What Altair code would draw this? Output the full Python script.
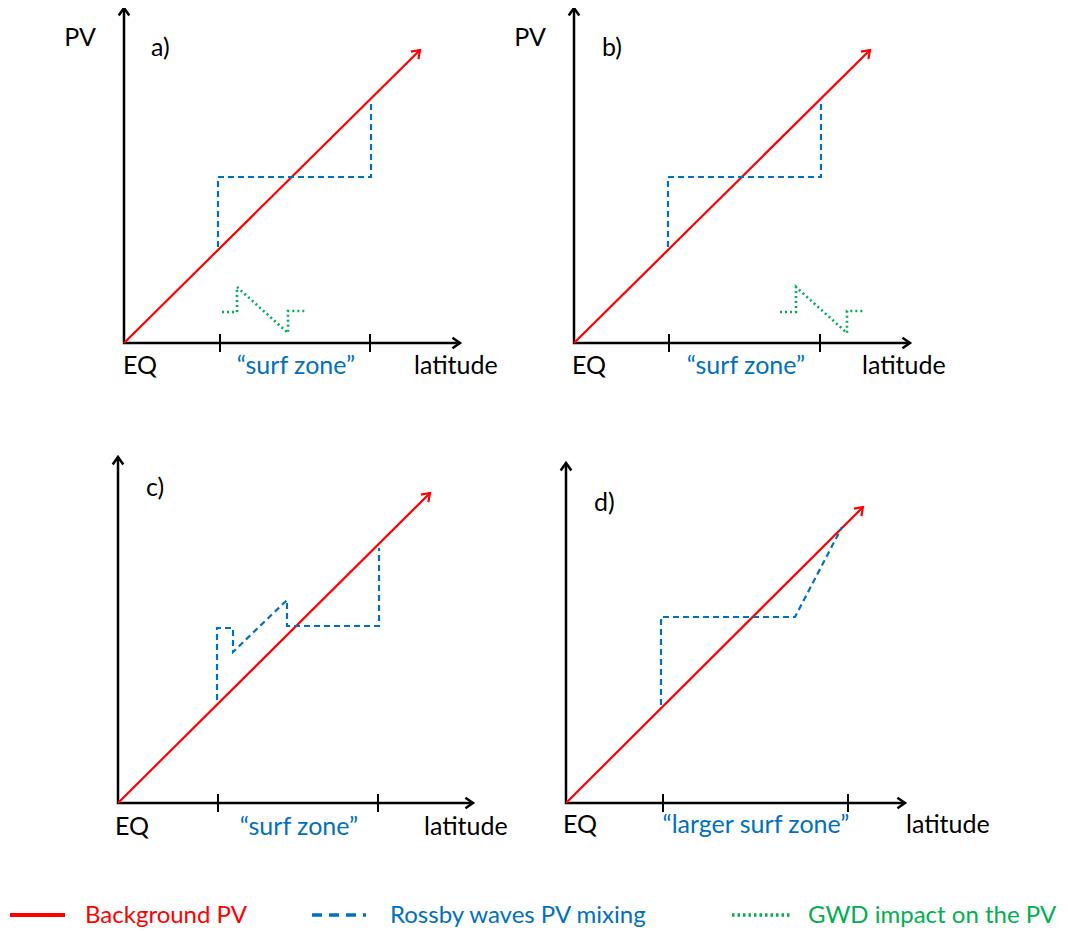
import altair as alt
import pandas as pd

# ---------------- data (diagram units: latitude right, PV up, origin = EQ) -------------
panels = ["a", "b", "c", "d"]

axis_lat_end = {"a": 336, "b": 336, "c": 355, "d": 339}
axis_pv_top = {"a": 335, "b": 335, "c": 346, "d": 340}
surf_ticks = {"a": [96, 246], "b": [95, 246], "c": [100, 260], "d": [97, 282]}

bg_lat = {"a": [0, 296], "b": [0, 296], "c": [0, 312], "d": [0, 297]}
bg_pv = {"a": [0, 293], "b": [0, 293], "c": [0, 310], "d": [0, 296]}

rossby_lat = {
    "a": [94, 94, 247, 247],
    "b": [94, 94, 247, 247],
    "c": [99, 99, 115, 115, 169, 169, 261, 261],
    "d": [95, 95, 229, 276],
}
rossby_pv = {
    "a": [96, 166, 166, 240],
    "b": [96, 166, 166, 240],
    "c": [103, 175, 175, 151, 203, 177, 177, 255],
    "d": [98, 186, 186, 276],
}

gwd_lat = {"a": [98, 113, 113, 164, 164, 183], "b": [206, 222, 222, 273, 273, 291]}
gwd_pv = {"a": [31, 31, 56, 10, 32, 32], "b": [31, 31, 56, 10, 32, 32]}

zone_labels = {"a": "“surf zone”", "b": "“surf zone”", "c": "“surf zone”", "d": "“larger surf zone”"}
panel_tags = {"a": "a)", "b": "b)", "c": "c)", "d": "d)"}
pv_label_panels = ["a", "b"]

legend_names = ["Background PV", "Rossby waves PV mixing", "GWD impact on the PV"]

# ---------------- layout (page pixels) ----------------
ORIGIN = {"a": (124, 343), "b": (574, 343), "c": (118, 803), "d": (566, 803)}
TAG_POS = {"a": (151, 48), "b": (602, 48), "c": (146, 488), "d": (594, 503)}
PV_POS = {"a": (80, 38), "b": (530, 38)}
EQ_POS = {"a": (123, 366), "b": (572, 366), "c": (115, 827), "d": (563, 825)}
LAT_POS = {"a": (414, 366), "b": (862, 366), "c": (424, 827), "d": (906, 825)}
ZONE_POS = {"a": (296, 366), "b": (746, 366), "c": (299, 827), "d": (756, 825)}

RED = "#ff0000"
BLUE = "#0070c0"
GREEN = "#00b050"
FONT = "Lato"
LABEL_SIZE = 25


def to_page(p, lat, pv):
    ox, oy = ORIGIN[p]
    return ox + lat, oy - pv


def polyline_rows(lat_d, pv_d, prefix):
    rows = []
    for p in lat_d:
        for i, (la, pv) in enumerate(zip(lat_d[p], pv_d[p])):
            X, Y = to_page(p, la, pv)
            rows.append({"X": X, "Y": Y, "seg": f"{prefix}{p}", "ord": i})
    return pd.DataFrame(rows)


axes_rows = []
tick_rows = []
head_rows = []
for p in panels:
    for i, (la, pv) in enumerate([(0, axis_pv_top[p]), (0, 0), (axis_lat_end[p], 0)]):
        X, Y = to_page(p, la, pv)
        axes_rows.append({"X": X, "Y": Y, "seg": p, "ord": i})
    for t in surf_ticks[p]:
        X, Y = to_page(p, t, 0)
        tick_rows.append({"X": X, "Y": Y - 9, "Y2": Y + 9})
    X, Y = to_page(p, 0, axis_pv_top[p])
    head_rows.append({"X": X, "Y": Y, "ang": 0, "kind": "axis"})
    X, Y = to_page(p, axis_lat_end[p], 0)
    head_rows.append({"X": X, "Y": Y, "ang": 90, "kind": "axis"})
    X, Y = to_page(p, bg_lat[p][-1], bg_pv[p][-1])
    head_rows.append({"X": X, "Y": Y, "ang": 45, "kind": "bg"})

axes_df = pd.DataFrame(axes_rows)
ticks_df = pd.DataFrame(tick_rows)
heads_df = pd.DataFrame(head_rows)
bg_df = polyline_rows(bg_lat, bg_pv, "bg")
ro_df = polyline_rows(rossby_lat, rossby_pv, "ro")
gw_df = polyline_rows(gwd_lat, gwd_pv, "gw")

text_rows = []
for p in panels:
    text_rows.append({"X": TAG_POS[p][0], "Y": TAG_POS[p][1], "t": panel_tags[p], "c": "black", "al": "left"})
    text_rows.append({"X": EQ_POS[p][0], "Y": EQ_POS[p][1], "t": "EQ", "c": "black", "al": "left"})
    text_rows.append({"X": LAT_POS[p][0], "Y": LAT_POS[p][1], "t": "latitude", "c": "black", "al": "left"})
    text_rows.append({"X": ZONE_POS[p][0], "Y": ZONE_POS[p][1], "t": zone_labels[p], "c": BLUE, "al": "center"})
for p in pv_label_panels:
    text_rows.append({"X": PV_POS[p][0], "Y": PV_POS[p][1], "t": "PV", "c": "black", "al": "center"})
texts_df = pd.DataFrame(text_rows)

LEG_Y = 915
leg_lines = pd.DataFrame([
    {"X": 10, "Y": LEG_Y, "seg": "r", "ord": 0}, {"X": 65, "Y": LEG_Y, "seg": "r", "ord": 1},
])
leg_blue = pd.DataFrame([
    {"X": 312, "Y": LEG_Y, "seg": "b", "ord": 0}, {"X": 366, "Y": LEG_Y, "seg": "b", "ord": 1},
])
leg_green = pd.DataFrame([
    {"X": 732, "Y": LEG_Y, "seg": "g", "ord": 0}, {"X": 791, "Y": LEG_Y, "seg": "g", "ord": 1},
])
leg_text = pd.DataFrame([
    {"X": 85, "Y": LEG_Y + 1, "t": legend_names[0], "c": RED},
    {"X": 390, "Y": LEG_Y + 1, "t": legend_names[1], "c": BLUE},
    {"X": 808, "Y": LEG_Y + 1, "t": legend_names[2], "c": GREEN},
])

# ---------------- chart ----------------
xs = alt.Scale(domain=[8, 1060], nice=False, zero=False)
ys = alt.Scale(domain=[8, 931], nice=False, zero=False, reverse=True)
X = alt.X("X:Q", scale=xs, axis=None)
Y = alt.Y("Y:Q", scale=ys, axis=None)


def lines(df, color, width, dash=None):
    kw = dict(color=color, strokeWidth=width, clip=False)
    if dash:
        kw["strokeDash"] = dash
    return alt.Chart(df).mark_line(**kw).encode(x=X, y=Y, detail="seg:N", order="ord:Q")


axes_layer = lines(axes_df, "black", 2.5)
ticks_layer = alt.Chart(ticks_df).mark_rule(color="black", strokeWidth=2).encode(
    x=X, y=Y, y2="Y2:Q")
bg_layer = lines(bg_df, RED, 2.2)
ro_layer = lines(ro_df, BLUE, 2.2, [6, 4])
gw_layer = lines(gw_df, GREEN, 2.6, [2, 3])

arrow_path = "M-0.7,1L0,0L0.7,1"
heads_axis = alt.Chart(heads_df[heads_df.kind == "axis"]).mark_point(
    shape=arrow_path, filled=False, color="black", strokeWidth=2.5, size=230, opacity=1
).encode(x=X, y=Y, angle=alt.Angle("ang:Q", scale=None))
heads_bg = alt.Chart(heads_df[heads_df.kind == "bg"]).mark_point(
    shape=arrow_path, filled=False, color=RED, strokeWidth=2.2, size=230, opacity=1
).encode(x=X, y=Y, angle=alt.Angle("ang:Q", scale=None))

texts_left = alt.Chart(texts_df[texts_df.al == "left"]).mark_text(
    align="left", baseline="middle", font=FONT, fontSize=LABEL_SIZE
).encode(x=X, y=Y, text="t:N", color=alt.Color("c:N", scale=None))
texts_center = alt.Chart(texts_df[texts_df.al == "center"]).mark_text(
    align="center", baseline="middle", font=FONT, fontSize=LABEL_SIZE
).encode(x=X, y=Y, text="t:N", color=alt.Color("c:N", scale=None))

leg_r = lines(leg_lines, RED, 4)
leg_b = lines(leg_blue, BLUE, 3.5, [10, 7])
leg_g = lines(leg_green, GREEN, 3.5, [2.5, 3])
leg_t = alt.Chart(leg_text).mark_text(
    align="left", baseline="middle", font=FONT, fontSize=24
).encode(x=X, y=Y, text="t:N", color=alt.Color("c:N", scale=None))

chart = alt.layer(
    axes_layer, ticks_layer, bg_layer, ro_layer, gw_layer, heads_axis, heads_bg,
    texts_left, texts_center, leg_r, leg_b, leg_g, leg_t
).properties(
    width=1052, height=923, padding=0,
    autosize=alt.AutoSizeParams(type="none"),
    background="white",
).configure_view(stroke=None)

chart.save("out.html", embed_options={"renderer": "svg", "actions": False})
